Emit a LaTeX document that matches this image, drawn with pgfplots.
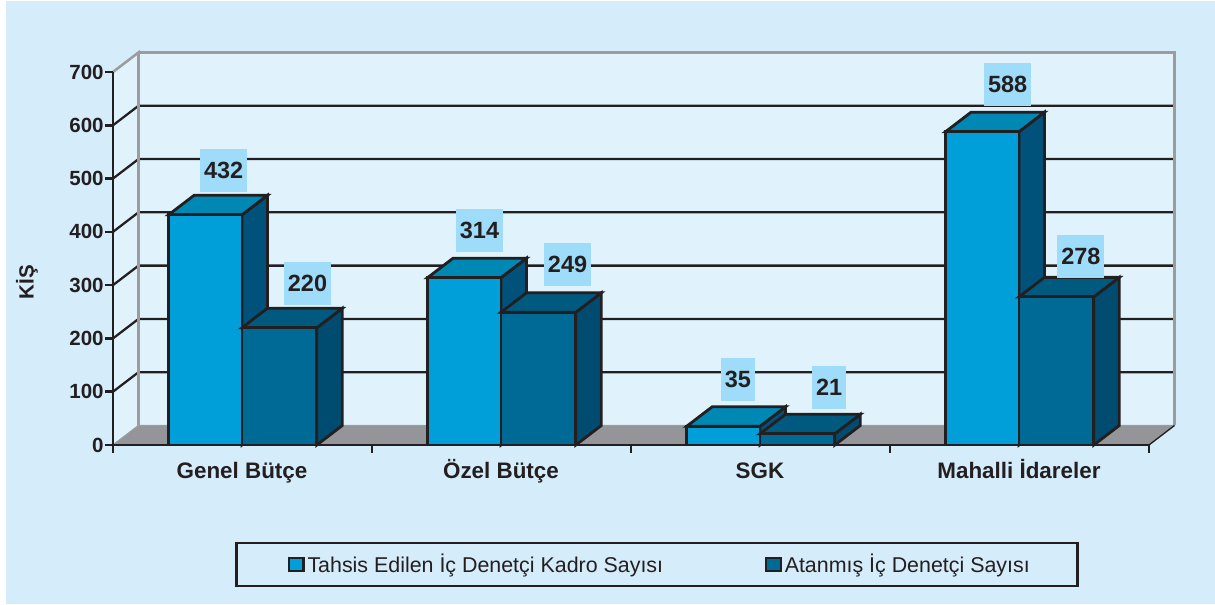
\documentclass[border=0pt]{standalone}
\usepackage{pgfplots}
\usepackage{pgfplotstable}
\usepackage{fontspec}
\setmainfont{Liberation Sans}
\pgfplotsset{compat=1.18}
\definecolor{ink}{HTML}{231F20}
\definecolor{pagebg}{HTML}{D5ECFA}
\definecolor{wall}{HTML}{E0F3FC}
\definecolor{floorgray}{HTML}{939598}
\definecolor{framegray}{HTML}{9A9C9F}
\definecolor{boxblue}{HTML}{9FDCF9}
\definecolor{frontA}{HTML}{009FDA}
\definecolor{topA}{HTML}{0088B5}
\definecolor{sideA}{HTML}{00527A}
\definecolor{frontB}{HTML}{006A96}
\definecolor{topB}{HTML}{005A80}
\definecolor{sideB}{HTML}{004C70}

% depth of the fake 3d box, in axis units
\def\ddx{0.0985}
\def\ddy{36.6}

\pgfplotstableread{
x     y      label
0.427 516.0  432
0.751 303.0  220
1.415 402.5  314
1.755 338.7  249
2.413 122.9  35
2.765 107.9  21
3.454 676.5  588
3.737 353.7  278
}\labeltable

% #1 left, #2 right, #3 value, #4 front, #5 top, #6 side
\newcommand{\boxbar}[6]{%
  \pgfmathsetmacro\xla{#1+\ddx}%
  \pgfmathsetmacro\xra{#2+\ddx}%
  \pgfmathsetmacro\vtop{#3+\ddy}%
  \edef\doit{%
    \noexpand\addplot[face,fill=#6] coordinates {(#2,0) (\xra,\ddy) (\xra,\vtop) (#2,#3)} --cycle;
    \noexpand\addplot[face,fill=#5] coordinates {(#1,#3) (\xla,\vtop) (\xra,\vtop) (#2,#3)} --cycle;
    \noexpand\addplot[face,fill=#4] coordinates {(#1,0) (#1,#3) (#2,#3) (#2,0)} --cycle;
  }\doit
}
\newcommand{\gridrow}[1]{%
  \pgfmathsetmacro\vtop{#1+\ddy}%
  \edef\doit{%
    \noexpand\addplot[forget plot,mark=none,ink,line width=1.7pt] coordinates {(0,#1) (\ddx,\vtop) (4.0985,\vtop)};
  }\doit
}

\begin{document}
\begin{tikzpicture}
\useasboundingbox (0,0) rectangle (911.25pt,453.75pt);
\fill[white] (0,0) rectangle (911.25pt,453.75pt);
\fill[pagebg] (4.5pt,1pt) rectangle (911.25pt,453pt);
\begin{axis}[
  at={(84.75pt,120pt)}, anchor=south west,
  scale only axis, width=777pt, height=279.75pt,
  xmin=0, xmax=4, ymin=0, ymax=700,
  clip=false, axis on top,
  axis x line*=bottom, axis y line*=left,
  face/.style={forget plot,mark=none,draw=ink,line width=2.1pt},
  axis line style={ink,line width=2.1pt,-},
  tick align=outside, major tick length=6pt,
  tick style={ink,line width=2pt},
  ytick={0,100,...,700},
  xtick={0,1,2,3,4}, xticklabels={},
  extra x ticks={0.498,1.498,2.498,3.498},
  extra x tick labels={Genel Bütçe,Özel Bütçe,SGK,Mahalli İdareler},
  extra x tick style={major tick length=0pt,
    tick label style={font=\fontsize{16.8}{18}\selectfont\bfseries,text=ink,
      text height=12pt,text depth=3pt,yshift=-9.75pt}},
  /pgf/number format/assume math mode=true,
  yticklabel style={font=\fontsize{15.4}{16}\selectfont\bfseries,text=ink,xshift=2.5pt},
  ylabel={KİŞ},
  every axis y label/.style={at={(axis description cs:-0.083,0.437)},rotate=90,anchor=center,
    font=\fontsize{15.4}{16}\selectfont\bfseries,text=ink},
  legend style={at={(0.5251,-0.3204)},anchor=center,draw=ink,line width=2pt,fill=pagebg,
    legend columns=2,inner xsep=34pt,inner ysep=6.5pt,
    font=\fontsize{16.05}{18}\selectfont,text=ink,
    /tikz/every even column/.append style={column sep=69.75pt}},
  legend cell align=left,
]
% walls and floor
\addplot[forget plot,mark=none,fill=wall,draw=none] coordinates {(0,0) (0.0985,36.6) (0.0985,736.6) (0,700)} --cycle;
\addplot[forget plot,mark=none,fill=wall,draw=none] coordinates {(0.0985,36.6) (4.0985,36.6) (4.0985,736.6) (0.0985,736.6)} --cycle;
\addplot[forget plot,mark=none,fill=floorgray,draw=none] coordinates {(0,0) (4,0) (4.0985,36.6) (0.0985,36.6)} --cycle;
\addplot[forget plot,mark=none,framegray,line width=1pt] coordinates {(0,0) (0.0985,36.6) (4.0985,36.6)};
\addplot[forget plot,mark=none,ink,line width=1pt] coordinates {(4,0) (4.0985,36.6)};
\gridrow{100}
\gridrow{200}
\gridrow{300}
\gridrow{400}
\gridrow{500}
\gridrow{600}
\addplot[forget plot,mark=none,framegray,line width=1.9pt] coordinates {(0,700) (0.0985,736.6) (0.0985,36.6)};
\addplot[forget plot,mark=none,framegray,line width=1.9pt] coordinates {(0.0985,736.6) (4.0985,736.6) (4.0985,36.6)};
% bars
\boxbar{0.2147}{0.498}{432}{frontA}{topA}{sideA}
\boxbar{0.498}{0.787}{220}{frontB}{topB}{sideB}
\boxbar{1.2147}{1.498}{314}{frontA}{topA}{sideA}
\boxbar{1.498}{1.787}{249}{frontB}{topB}{sideB}
\boxbar{2.2147}{2.498}{35}{frontA}{topA}{sideA}
\boxbar{2.498}{2.787}{21}{frontB}{topB}{sideB}
\boxbar{3.2147}{3.498}{588}{frontA}{topA}{sideA}
\boxbar{3.498}{3.787}{278}{frontB}{topB}{sideB}
% the axis lines come out thin, so go over them once more
\addplot[forget plot,mark=none,ink,line width=2.1pt] coordinates {(0,0) (4,0)};
\addplot[forget plot,mark=none,ink,line width=2.1pt] coordinates {(0,0) (0,700)};
% value labels
\addplot[forget plot,draw=none,mark=none,point meta=explicit symbolic,nodes near coords,
  every node near coord/.append style={anchor=center,fill=boxblue,text=ink,inner xsep=3pt,inner ysep=0pt,
    minimum height=32.25pt,font=\fontsize{17.6}{18}\selectfont\bfseries}]
  table[x=x,y=y,meta=label] {\labeltable};
% legend
\addlegendimage{legend image code/.code={\path (-4.5pt,0pt); \draw[ink,line width=1.9pt,fill=frontA] (0pt,-5pt) rectangle (11pt,5pt);}}
\addlegendentry{Tahsis Edilen İç Denetçi Kadro Sayısı}
\addlegendimage{legend image code/.code={\path (-4.5pt,0pt); \draw[ink,line width=1.9pt,fill=frontB] (0pt,-5pt) rectangle (11pt,5pt);}}
\addlegendentry{Atanmış İç Denetçi Sayısı}
\end{axis}
\end{tikzpicture}
\end{document}
